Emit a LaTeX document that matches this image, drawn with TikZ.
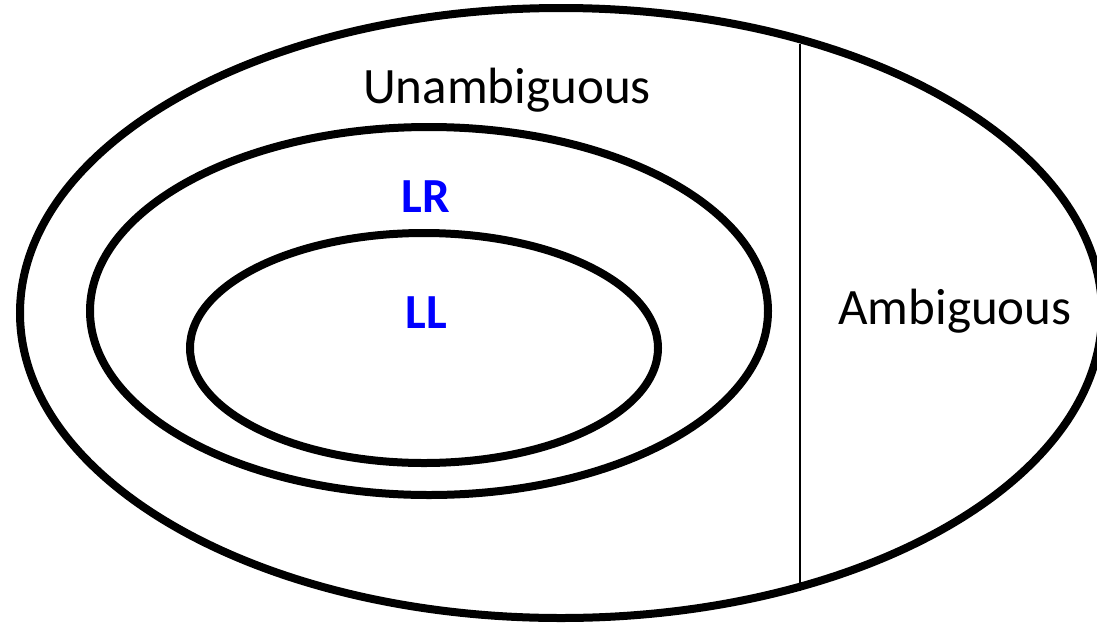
\documentclass[tikz,border=0pt]{standalone}
\usepackage{fontspec}
\setmainfont{Carlito}
\begin{document}
\begin{tikzpicture}[x=1pt,y=-1pt,
  ring/.style={draw=black,line width=8pt},
  lbl/.style={font=\fontsize{51}{60}\selectfont,inner sep=0pt},
  blbl/.style={font=\fontsize{49}{58}\selectfont\bfseries,text={rgb,255:red,0;green,0;blue,255},inner sep=0pt}]
\useasboundingbox (0,0) rectangle (1097,627);
\draw[ring] (561,313) ellipse [x radius=541, y radius=305];
\draw[ring] (429,311) ellipse [x radius=339, y radius=184];
\draw[ring] (424,348) ellipse [x radius=234, y radius=115];
\coordinate (vt) at (800,44);
\coordinate (vb) at (800,591);
\draw[line width=2pt] (vt) -- (vb);
\node[lbl] (unamb) at (507,90) {Unambiguous};
\node[lbl] (amb) at (955,311) {Ambiguous};
\node[blbl] (lr) at (426,197) {LR};
\node[blbl] (ll) at (426,313) {LL};
\end{tikzpicture}
\end{document}
